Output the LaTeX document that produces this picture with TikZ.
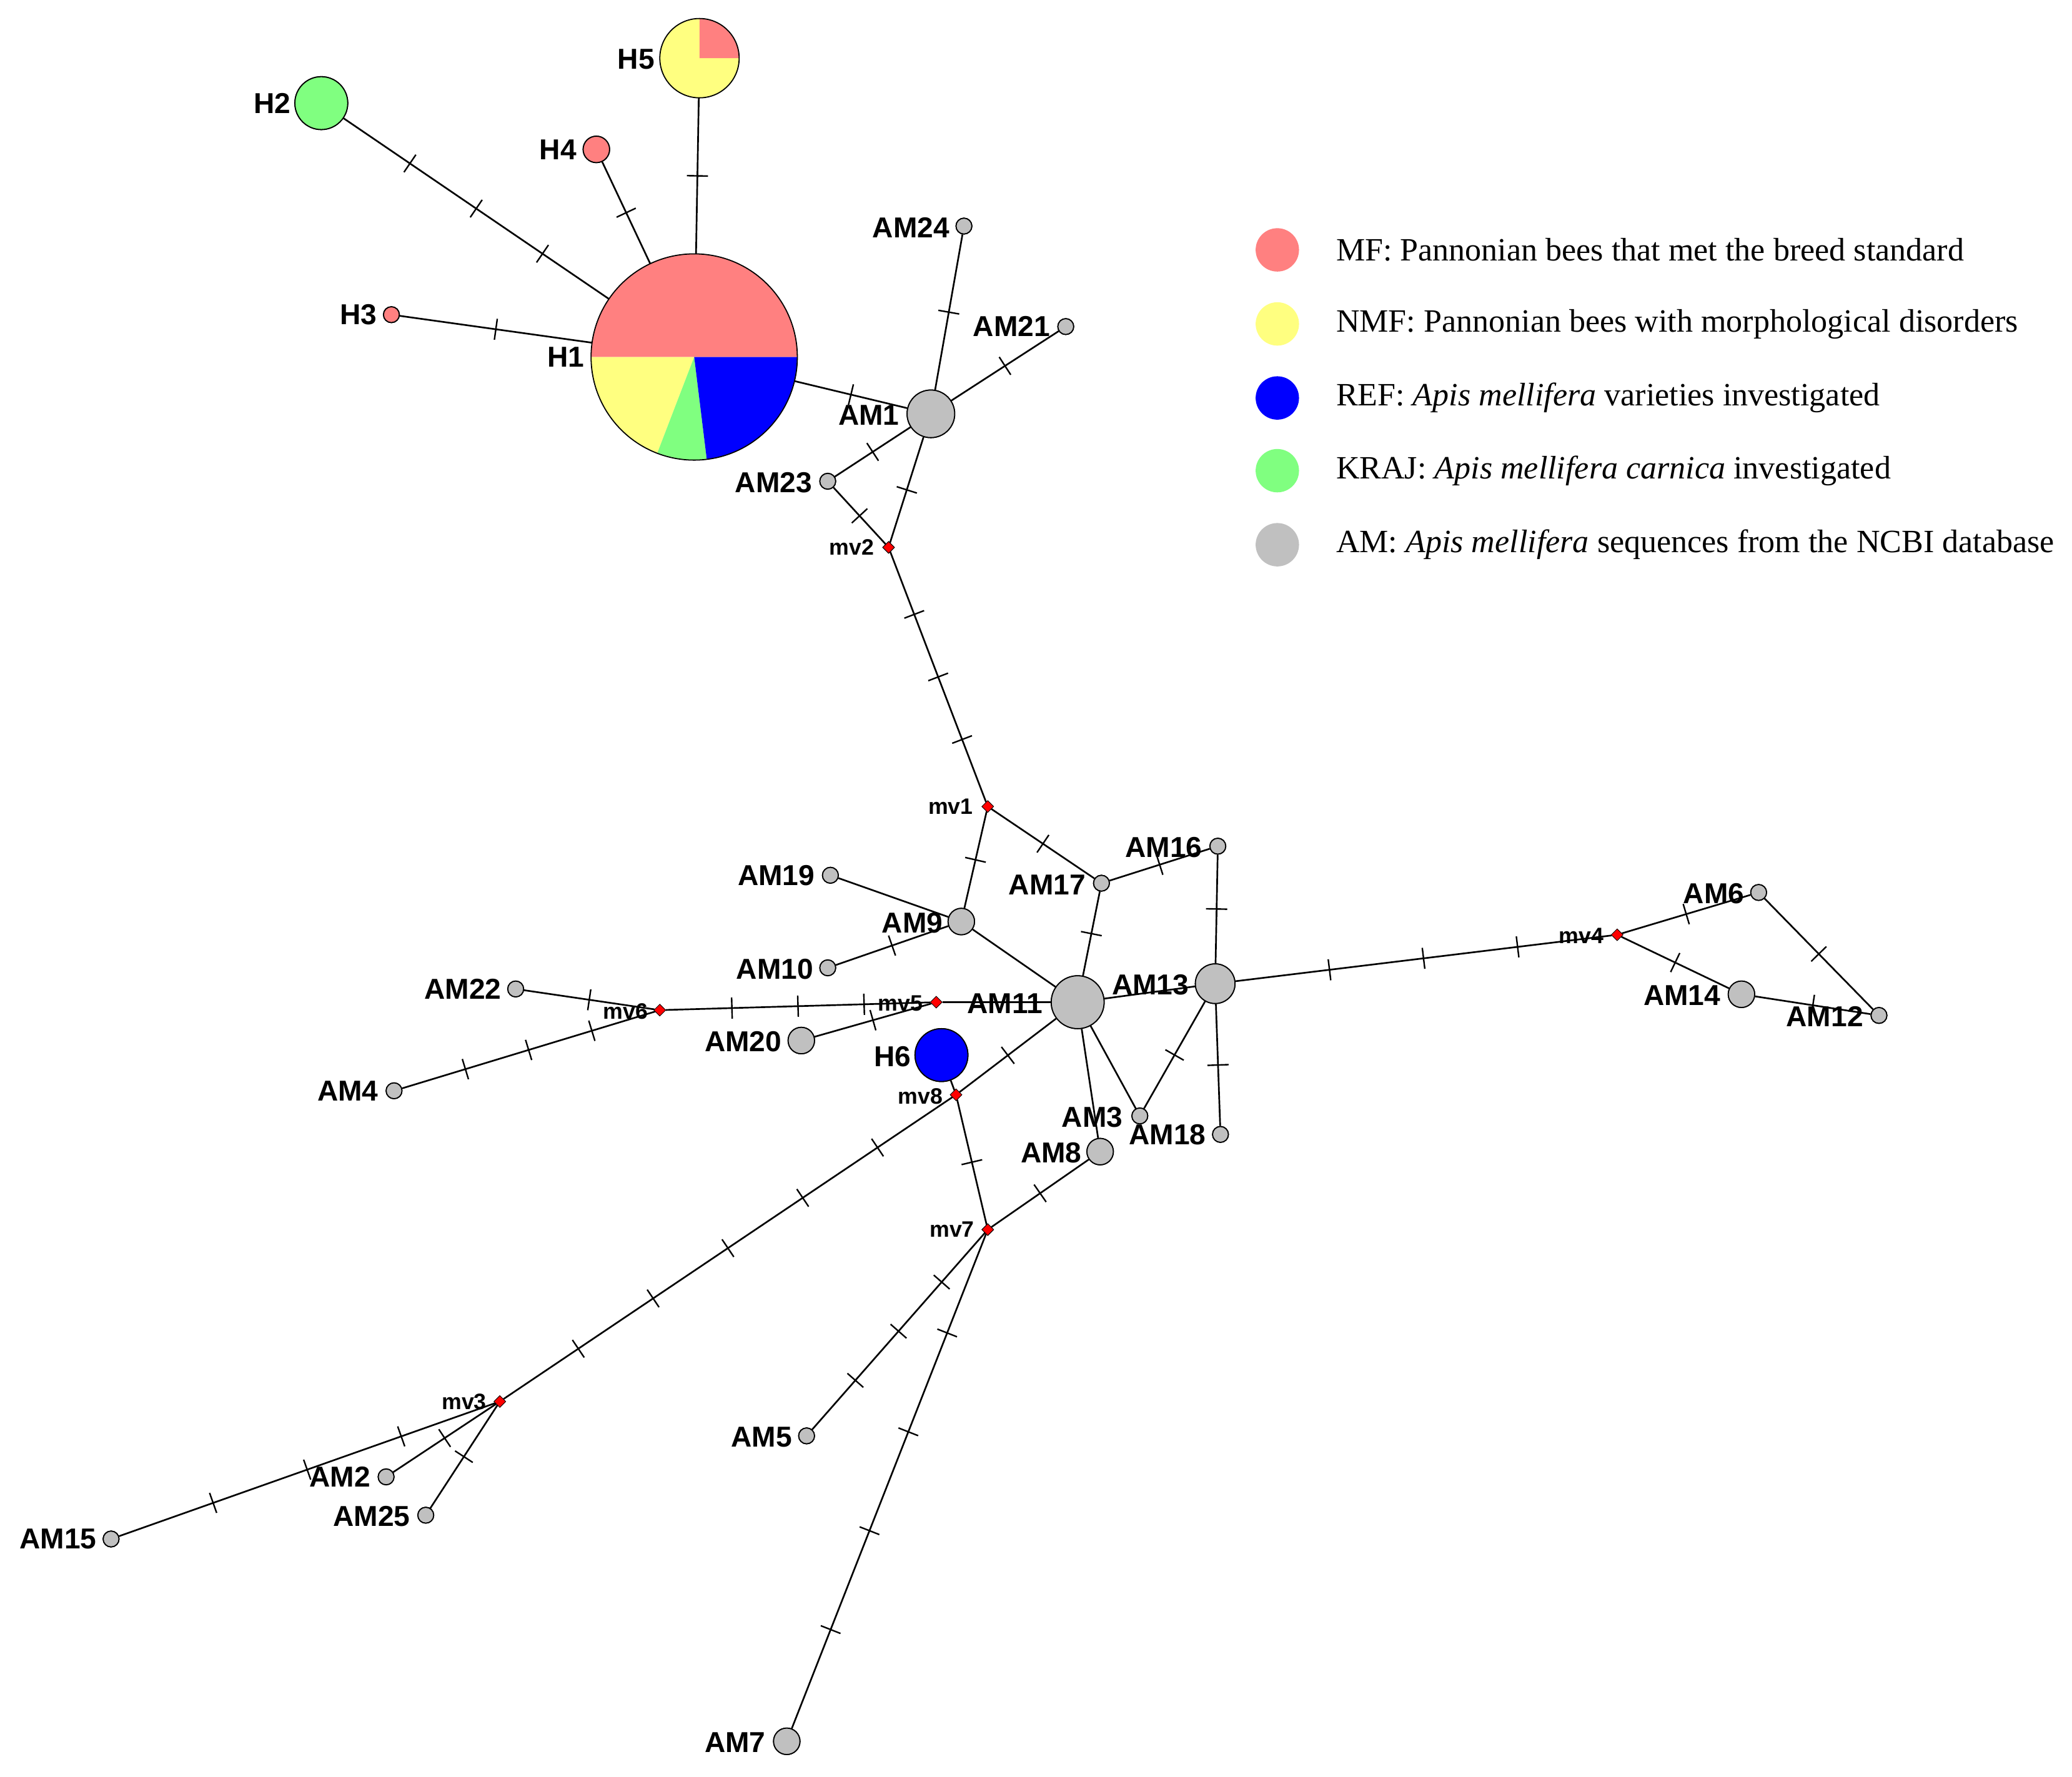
\documentclass[tikz,border=0pt]{standalone}
\usepackage{fontspec}
\setmainfont{Liberation Serif}
\setsansfont{Liberation Sans}
\usetikzlibrary{shapes.geometric}
\definecolor{pk}{HTML}{FF8080}
\definecolor{yl}{HTML}{FFFF80}
\definecolor{bl}{HTML}{0000FF}
\definecolor{gr}{HTML}{80FF80}
\definecolor{gy}{HTML}{C0C0C0}
\tikzset{
 x=0.05cm,y=-0.05cm,
 base/.style={circle,draw=black,line width=1.2pt,inner sep=0pt,fill=gy},
 sm/.style={base,minimum size=0.6cm},
 md/.style={base,minimum size=1cm},
 lg/.style={base,minimum size=1.8cm},
 mv/.style={diamond,fill=red,draw=black,line width=0.5pt,inner sep=0pt,minimum size=0.45cm},
 lab/.style={font=\sffamily\bfseries\fontsize{31}{31}\selectfont},
 mvl/.style={font=\sffamily\bfseries\fontsize{24}{24}\selectfont},
 tick/.style={sloped,draw=black,line width=1.6pt,inner sep=0pt,minimum width=0pt,minimum height=0.8cm},
 ed/.style={line width=1.8pt},
 leg/.style={anchor=west,font=\fontsize{35}{35}\selectfont}
}
\newcommand\E[3]{\draw[ed] (#1) -- (#2);\foreach \k in {1,...,#3}{\path (#1) -- (#2) node[tick,pos={\k/(#3+1)}]{};}}
\newcommand\Z[2]{\draw[ed] (#1) -- (#2);}
\begin{document}
\begin{tikzpicture}
\useasboundingbox (0,0) rectangle (1567,1344);
\fill[white] (0,0) rectangle (1567,1344);
\node[circle,minimum size=7.8cm,inner sep=0pt] (H1) at (525,270) {};
\node[circle,minimum size=3cm,inner sep=0pt] (H5) at (529,44) {};
\node[base,fill=gr,minimum size=2cm] (H2) at (243,78) {};
\node[sm,fill=pk] (H3) at (296,238) {};
\node[base,fill=pk,minimum size=1cm] (H4) at (451,113) {};
\node[lg] (AM1) at (704,313) {};
\node[sm] (AM24) at (729,171) {};
\node[sm] (AM21) at (806,247) {};
\node[sm] (AM23) at (626,364) {};
\node[mv] (mv2) at (672,414) {};
\node[mv] (mv1) at (747,610) {};
\node[sm] (AM16) at (921,640) {};
\node[sm] (AM17) at (833,668) {};
\node[sm] (AM19) at (628,662) {};
\node[md] (AM9) at (727,697) {};
\node[sm] (AM10) at (626,732) {};
\node[base,minimum size=2cm] (AM11) at (815,758) {};
\node[base,minimum size=1.5cm] (AM13) at (919,744) {};
\node[sm] (AM22) at (390,748) {};
\node[mv] (mv6) at (499,764) {};
\node[mv] (mv5) at (708,758) {};
\node[md] (AM20) at (606,787) {};
\node[base,fill=bl,minimum size=2cm] (H6) at (712,798) {};
\node[sm] (AM4) at (298,825) {};
\node[mv] (mv8) at (723,828) {};
\node[sm] (AM3) at (862,844) {};
\node[sm] (AM18) at (923,858) {};
\node[md] (AM8) at (832,871) {};
\node[mv] (mv7) at (747,930) {};
\node[mv] (mv4) at (1223,707) {};
\node[sm] (AM6) at (1330,675) {};
\node[md] (AM14) at (1317,752) {};
\node[sm] (AM12) at (1421,768) {};
\node[mv] (mv3) at (378,1060) {};
\node[sm] (AM2) at (292,1117) {};
\node[sm] (AM25) at (322,1146) {};
\node[sm] (AM15) at (84,1164) {};
\node[sm] (AM5) at (610,1086) {};
\node[md] (AM7) at (595,1317) {};
\E{H2}{H1}{3} \E{H3}{H1}{1} \E{H4}{H1}{1} \E{H5}{H1}{1} \E{H1}{AM1}{1}
\E{AM24}{AM1}{1} \E{AM21}{AM1}{1} \E{AM23}{AM1}{1} \E{AM1}{mv2}{1} \E{AM23}{mv2}{1}
\E{mv2}{mv1}{3} \E{mv1}{AM17}{1} \E{mv1}{AM9}{1} \E{AM17}{AM16}{1} \E{AM17}{AM11}{1}
\E{AM16}{AM13}{1} \Z{AM19}{AM9} \E{AM10}{AM9}{1} \Z{AM9}{AM11} \Z{AM11}{AM13}
\E{mv6}{AM22}{1} \E{mv6}{AM4}{3} \E{mv6}{mv5}{3} \Z{mv5}{AM11} \E{AM20}{mv5}{1}
\E{AM11}{mv8}{1} \Z{H6}{mv8} \E{mv8}{mv7}{1} \E{mv8}{mv3}{5} \E{mv7}{AM8}{1}
\Z{AM8}{AM11} \Z{AM11}{AM3} \E{AM13}{AM3}{1} \E{AM13}{AM18}{1} \E{AM13}{mv4}{3}
\E{mv4}{AM6}{1} \E{mv4}{AM14}{1} \E{AM6}{AM12}{1} \E{AM14}{AM12}{1}
\E{mv3}{AM2}{1} \E{mv3}{AM25}{1} \E{mv3}{AM15}{3} \E{mv7}{AM5}{3} \E{mv7}{AM7}{4}
\foreach \n/\x/\y/\s in {AM1/704/313/lg,AM24/729/171/sm,AM21/806/247/sm,AM23/626/364/sm,AM16/921/640/sm,AM17/833/668/sm,AM19/628/662/sm,AM9/727/697/md,AM10/626/732/sm,AM22/390/748/sm,AM20/606/787/md,AM4/298/825/sm,AM3/862/844/sm,AM18/923/858/sm,AM8/832/871/md,AM6/1330/675/sm,AM14/1317/752/md,AM12/1421/768/sm,AM2/292/1117/sm,AM25/322/1146/sm,AM15/84/1164/sm,AM5/610/1086/sm,AM7/595/1317/md}
  {\node[\s] (r\n) at (\x,\y) {};}
\node[base,minimum size=2cm] (rAM11) at (815,758) {};
\node[base,minimum size=1.5cm] (rAM13) at (919,744) {};
\node[base,fill=bl,minimum size=2cm] (rH6) at (712,798) {};
\node[base,fill=gr,minimum size=2cm] (rH2) at (243,78) {};
\node[sm,fill=pk] (rH3) at (296,238) {};
\node[base,fill=pk,minimum size=1cm] (rH4) at (451,113) {};
\foreach \n/\x/\y in {mv2/672/414,mv1/747/610,mv6/499/764,mv5/708/758,mv8/723/828,mv7/747/930,mv4/1223/707,mv3/378/1060}
  {\node[mv] (r\n) at (\x,\y) {};}
\fill[pk] (525,270) -- ++(0:3.9cm) arc[start angle=0,end angle=180,radius=3.9cm] -- cycle;
\fill[yl] (525,270) -- ++(180:3.9cm) arc[start angle=180,end angle=249,radius=3.9cm] -- cycle;
\fill[gr] (525,270) -- ++(249:3.9cm) arc[start angle=249,end angle=277,radius=3.9cm] -- cycle;
\fill[bl] (525,270) -- ++(277:3.9cm) arc[start angle=277,end angle=360,radius=3.9cm] -- cycle;
\draw[line width=1.2pt] (525,270) circle[radius=3.9cm];
\fill[yl] (529,44) circle[radius=1.5cm];
\fill[pk] (529,44) -- ++(0:1.5cm) arc[start angle=0,end angle=90,radius=1.5cm] -- cycle;
\draw[line width=1.2pt] (529,44) circle[radius=1.5cm];
\foreach \t/\x/\y in {H2/206/78,H3/271/238,H4/422/113,H5/481/45,H1/428/270,AM24/689/172,AM21/765/247,AM1/657/314,AM23/585/365,AM16/880/641,AM17/792/669,AM19/587/662,AM9/690/698,AM10/586/733,AM11/760/759,AM13/870/745,AM22/350/748,AM20/562/788,H6/675/799,AM4/263/825,AM3/826/845,AM18/883/858,AM8/795/872,AM6/1296/676,AM14/1272/753,AM12/1380/769,AM2/257/1117,AM25/281/1147,AM15/44/1164,AM5/576/1087,AM7/556/1318}
  {\node[lab] (l\t) at (\x,\y) {\t};}
\foreach \t/\x/\y in {mv2/644/414,mv1/719/610,mv6/473/765,mv5/681/759,mv8/696/829,mv7/720/930,mv4/1196/708,mv3/351/1060}
  {\node[mvl] (l\t) at (\x,\y) {\t};}
\foreach \c/\y/\i in {pk/189/1,yl/245/2,bl/301/3,gr/356/4,gy/412/5}
  {\fill[\c] (966,\y) circle[radius=0.82cm]; \coordinate (k\i) at (1008,\y);}
\node[leg] (t1) at (k1) {MF: Pannonian bees that met the breed standard};
\node[leg] (t2) at (k2) {NMF: Pannonian bees with morphological disorders};
\node[leg] (t3) at (k3) {REF: \textit{Apis mellifera} varieties investigated};
\node[leg] (t4) at (k4) {KRAJ: \textit{Apis mellifera carnica} investigated};
\node[leg] (t5) at (k5) {AM: \textit{Apis mellifera} sequences from the NCBI database};
\end{tikzpicture}
\end{document}
